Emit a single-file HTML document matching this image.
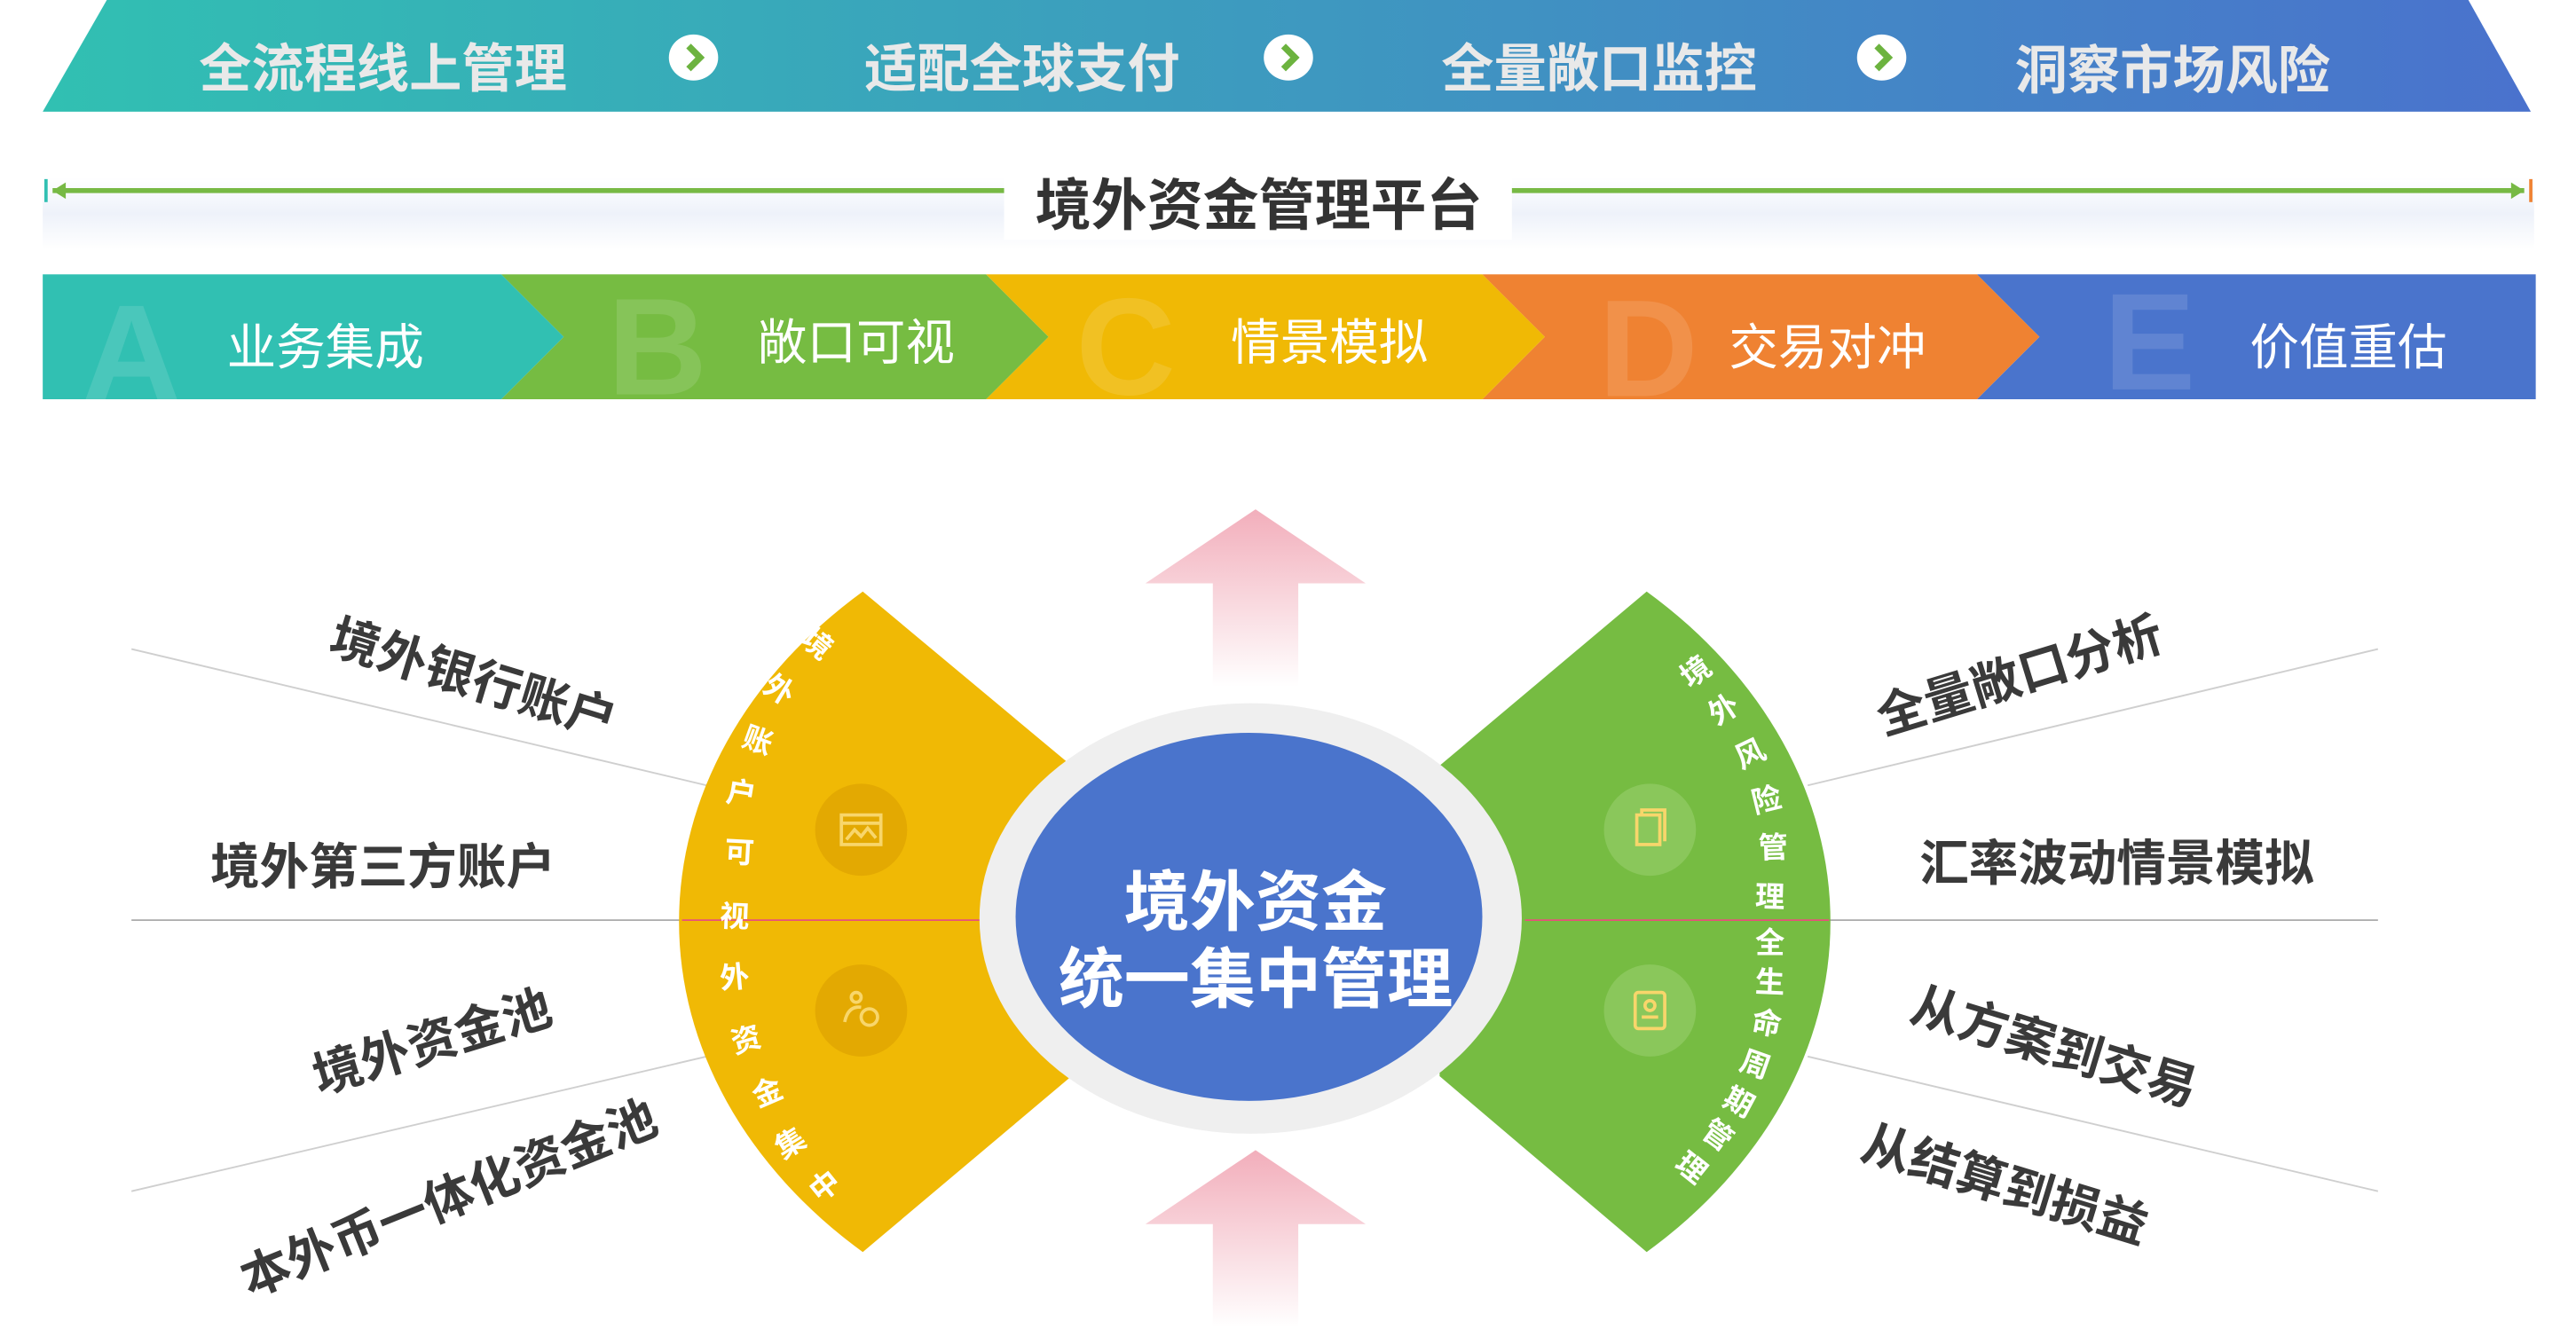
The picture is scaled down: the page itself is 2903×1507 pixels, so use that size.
<!DOCTYPE html>
<html><head><meta charset="utf-8">
<style>
html,body{margin:0;padding:0;background:#fff;overflow:hidden}
#wrap{width:1568px;height:814px;transform:scale(1.852);transform-origin:0 0;position:relative}
svg{position:absolute;left:0;top:0}
text{font-family:"Liberation Sans","Noto Sans CJK SC",sans-serif}
</style></head><body>
<div id="wrap">
<svg width="1568" height="814" viewBox="0 0 1568 814" xmlns="http://www.w3.org/2000/svg">
<defs>
<linearGradient id="top" x1="0" x2="1" y1="0" y2="0"><stop offset="0" stop-color="#31c0b2"/><stop offset="1" stop-color="#4a72cd"/></linearGradient>
<linearGradient id="pk" x1="0" x2="0" y1="0" y2="1"><stop offset="0" stop-color="#f2aebb"/><stop offset="1" stop-color="#ffffff"/></linearGradient>
<linearGradient id="band" x1="0" x2="0" y1="0" y2="1"><stop offset="0" stop-color="#fff"/><stop offset=".5" stop-color="#eef2fa"/><stop offset="1" stop-color="#fff"/></linearGradient>
</defs>
<polygon points="65,0 1502,0 1540,68 26,68" fill="url(#top)"/>
<g font-size="32" font-weight="bold" fill="#e9e9e9" text-anchor="middle">
<text x="233" y="53">全流程线上管理</text>
<text x="622" y="53">适配全球支付</text>
<text x="973" y="53">全量敞口监控</text>
<text x="1322" y="54">洞察市场风险</text>
</g>
<g>
<ellipse cx="422" cy="35" rx="15" ry="14" fill="#fff"/><path d="M419 28 L426 35 L419 42" stroke="#6cb33f" stroke-width="4" fill="none"/>
<ellipse cx="784" cy="35" rx="15" ry="14" fill="#fff"/><path d="M781 28 L788 35 L781 42" stroke="#6cb33f" stroke-width="4" fill="none"/>
<ellipse cx="1145" cy="35" rx="15" ry="14" fill="#fff"/><path d="M1142 28 L1149 35 L1142 42" stroke="#6cb33f" stroke-width="4" fill="none"/>
</g>
<rect x="26" y="108" width="1516" height="44" fill="url(#band)"/>
<line x1="32" y1="116" x2="1536" y2="116" stroke="#77b944" stroke-width="3"/>
<polygon points="32,116 40,111 40,121" fill="#77b944"/>
<polygon points="1536,116 1528,111 1528,121" fill="#77b944"/>
<rect x="27" y="109" width="2" height="14" fill="#31c0b2"/>
<rect x="1539" y="109" width="2" height="14" fill="#ef8232"/>
<rect x="611" y="104" width="309" height="42" fill="#fff"/>
<text x="766" y="137" font-size="34" font-weight="bold" fill="#333" text-anchor="middle">境外资金管理平台</text>
<polygon points="1203,167 1543,167 1543,243 1203,243 1241,205" fill="#4a74cc"/>
<polygon points="902,167 1203,167 1241,205 1203,243 902,243 940,205" fill="#ef8232"/>
<polygon points="600,167 902,167 940,205 902,243 600,243 638,205" fill="#f0b905"/>
<polygon points="305,167 600,167 638,205 600,243 305,243 343,205" fill="#76bc42"/>
<polygon points="26,167 305,167 343,205 305,243 26,243" fill="#31c0b2"/>
<g font-size="84" font-weight="bold" fill="#fff" fill-opacity=".12" text-anchor="middle">
<text x="80" y="244">A</text><text x="400" y="240">B</text><text x="685" y="240">C</text><text x="1003" y="241">D</text><text x="1308" y="237">E</text>
</g>
<g font-size="30" fill="#fff" text-anchor="middle">
<text x="198" y="222">业务集成</text><text x="521" y="219">敞口可视</text><text x="809" y="219">情景模拟</text><text x="1112" y="222">交易对冲</text><text x="1429" y="222">价值重估</text>
</g>
<g stroke="#cfcfcf" stroke-width="1">
<line x1="80" y1="395" x2="430" y2="478"/><line x1="80" y1="725" x2="430" y2="643"/>
<line x1="1447" y1="395" x2="1100" y2="478"/><line x1="1447" y1="725" x2="1100" y2="643"/>
</g>
<line x1="80" y1="560" x2="1447" y2="560" stroke="#aaa" stroke-width="1"/>
<polygon points="764,310 831,355 790,355 790,418 738,418 738,355 697,355" fill="url(#pk)"/>
<polygon points="764,700 831,745 790,745 790,808 738,808 738,745 697,745" fill="url(#pk)"/>
<path d="M652,466 L525,360 A349 274 0 0 0 525,762 L652,655 Z" fill="#f0b905"/>
<path d="M876,466 L1002,360 A349 274 0 0 1 1002,762 L876,655 Z" fill="#76bc42"/>
<line x1="415" y1="560" x2="600" y2="560" stroke="#e8507a" stroke-width="1"/>
<line x1="928" y1="560" x2="1113" y2="560" stroke="#e8507a" stroke-width="1"/>
<circle cx="524" cy="505" r="28" fill="#e3a902"/><circle cx="524" cy="615" r="28" fill="#e3a902"/>
<circle cx="1004" cy="505" r="28" fill="#8ac75b"/><circle cx="1004" cy="615" r="28" fill="#8ac75b"/>
<g stroke="#f8d66b" stroke-width="2" fill="none">
<rect x="512" y="496" width="24" height="18"/><line x1="512" y1="501" x2="536" y2="501"/><path d="M515 511 L520 505 L524 509 L528 504 L533 510"/>
<circle cx="521" cy="607" r="3"/><path d="M514 622 Q516 612 524 613"/><circle cx="529" cy="619" r="5"/>
<rect x="996" y="496" width="14" height="18"/><path d="M999 496 L999 493 L1013 493 L1013 512"/>
<rect x="995" y="604" width="18" height="22" rx="2"/><circle cx="1004" cy="612" r="3"/><line x1="999" y1="619" x2="1009" y2="619"/>
</g>
<ellipse cx="761" cy="559" rx="165" ry="131" fill="#efefef"/>
<ellipse cx="760" cy="558" rx="142" ry="112" fill="#4a74cc"/>
<g font-size="40" font-weight="bold" fill="#fff" text-anchor="middle">
<text x="764" y="563">境外资金</text><text x="764" y="610">统一集中管理</text>
</g>
<g font-size="30" font-weight="bold" fill="#3a3a3a" text-anchor="middle">
<text transform="translate(285,423) rotate(17)">境外银行账户</text>
<text x="233" y="538">境外第三方账户</text>
<text transform="translate(266,644) rotate(-17)">境外资金池</text>
<text transform="translate(277,739) rotate(-22)">本外币一体化资金池</text>
<text transform="translate(1232,421) rotate(-17)">全量敞口分析</text>
<text x="1288" y="536">汇率波动情景模拟</text>
<text transform="translate(1247,647) rotate(17)">从方案到交易</text>
<text transform="translate(1217,731) rotate(17)">从结算到损益</text>
</g>
<g id="arcL" font-size="18" font-weight="bold" fill="#fff" text-anchor="middle"></g>
<g id="arcR" font-size="18" font-weight="bold" fill="#fff" text-anchor="middle"></g>
</svg>
</div>
<script>
function place(id,chars,pts){
  var g=document.getElementById(id),ns="http://www.w3.org/2000/svg";
  for(var i=0;i<chars.length;i++){
    var a=pts[Math.max(0,i-1)],b=pts[Math.min(pts.length-1,i+1)];
    var ang=Math.atan2(b[0]-a[0],b[1]-a[1])*180/Math.PI;
    var t=document.createElementNS(ns,"text");
    t.setAttribute("transform","translate("+pts[i][0]+","+pts[i][1]+") rotate("+(-ang)+")");
    t.setAttribute("y","6");
    t.textContent=chars[i];
    g.appendChild(t);
  }
}
place("arcL",["境","外","账","户","可","视","外","资","金","集","中"],
 [[497,392],[474,420],[461,451],[451,483],[450,519],[447,558],[447,595],[454,633],[467,665],[481,696],[502,722]]);
place("arcR",["境","外","风","险","管","理","全","生","命","周","期","管","理"],
 [[1032,409],[1049,432],[1065,459],[1075,487],[1079,516],[1077,546],[1077,574],[1077,598],[1075,623],[1068,648],[1058,671],[1045,691],[1029,711]]);
</script>
</body></html>
